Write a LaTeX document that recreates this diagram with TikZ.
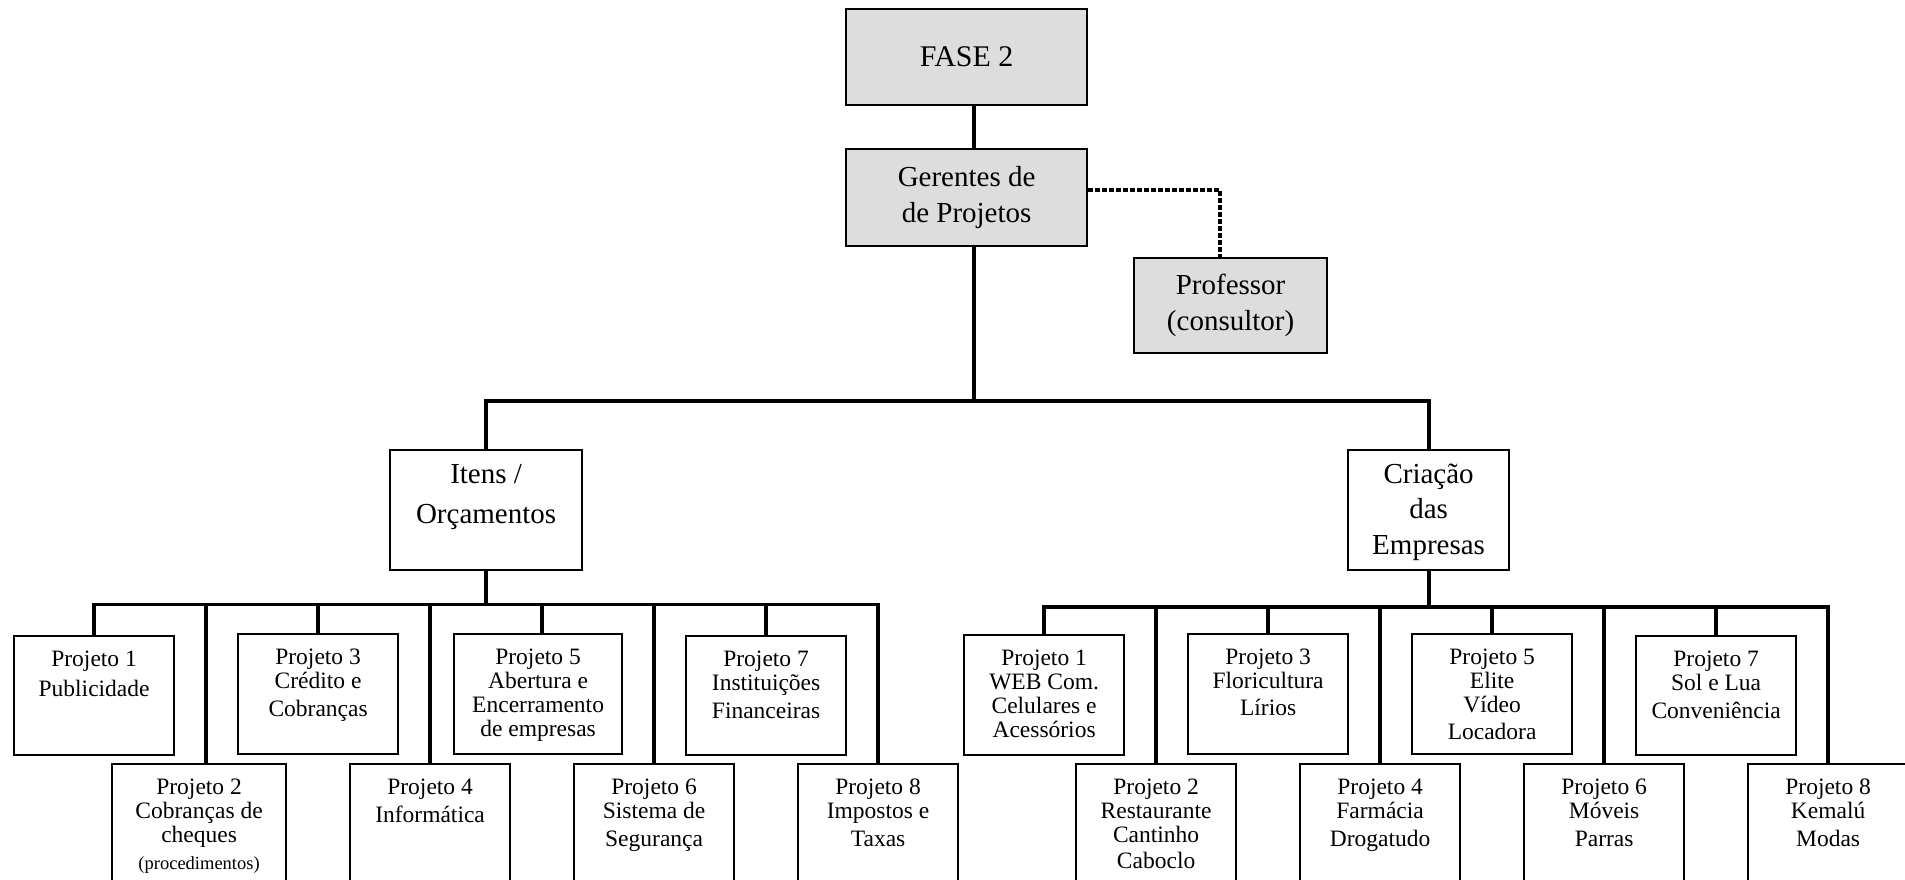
\documentclass[tikz,border=0pt]{standalone}
\usepackage{fontspec}
\setmainfont{Liberation Serif}
\usetikzlibrary{calc}

\definecolor{boxgray}{RGB}{221,221,221}

% text sizes
\newcommand\projfont{\fontsize{23.5}{24}\selectfont}
\newcommand\headfont{\fontsize{29}{35.5}\selectfont}
\newcommand\notefont{\fontsize{18.5}{20}\selectfont}
% top-aligned box content: [first baseline]{width}{height}{text}
\newcommand\pb[4][30pt]{\parbox[t][#3][t]{#2}{\centering\rule{0pt}{#1}#4}}

\begin{document}
\begin{tikzpicture}[x=1pt,y=-1pt,
  graybox/.style={draw, line width=2.2pt, fill=boxgray, inner sep=0pt,
    anchor=north west, align=center, font=\headfont},
  proj/.style={draw, line width=2.2pt, fill=white, inner sep=0pt,
    anchor=north west, font=\projfont},
  groupbox/.style={draw, line width=2.2pt, fill=white, inner sep=0pt,
    anchor=north west, font=\headfont},
  wire/.style={line width=3.8pt},
  dashlink/.style={line width=3.6pt, dash pattern=on 5pt off 2pt}]

\useasboundingbox (0,0) rectangle (1905,879);
\clip (0,0) rectangle (1905,879);

% guide levels for the bus lines
\coordinate (topbus) at (0,401);
\coordinate (lbus) at (0,604.5);
\coordinate (rbus) at (0,607);

% head of the chart
\node[graybox, minimum width=241pt, minimum height=96pt,
      font=\fontsize{30}{36}\selectfont] (fase) at (845,8) {FASE 2};
\node[graybox, minimum width=241pt, minimum height=97pt] (ger) at (845,148)
  {Gerentes de\\de Projetos};
\node[graybox, minimum width=193pt, minimum height=95pt] (prof) at (1133,257)
  {Professor\\(consultor)};

% the two groups
\node[groupbox] (itens) at (389,449)
  {\pb[33pt]{192pt}{120pt}{\fontsize{29}{40}\selectfont Itens /\\Orçamentos}};
\node[groupbox] (cria) at (1347,449)
  {\pb[33pt]{161pt}{120pt}{Criação\\das\\Empresas}};

% projects of "Itens / Orçamentos"
\node[proj] (l1) at (13,635)  {\pb{160pt}{119pt}{Projeto 1\\[6pt]Publicidade}};
\node[proj] (l2) at (111,763) {\pb{174pt}{130pt}{Projeto 2\\Cobranças de\\cheques\\[3pt]{\notefont(procedimentos)}}};
\node[proj] (l3) at (237,633) {\pb{160pt}{120pt}{Projeto 3\\Crédito e\\[4pt]Cobranças}};
\node[proj] (l4) at (349,763) {\pb{160pt}{130pt}{Projeto 4\\[4pt]Informática}};
\node[proj] (l5) at (453,633) {\pb{168pt}{120pt}{Projeto 5\\Abertura e\\Encerramento\\de empresas}};
\node[proj] (l6) at (573,763) {\pb{160pt}{130pt}{Projeto 6\\Sistema de\\[4pt]Segurança}};
\node[proj] (l7) at (685,635) {\pb{160pt}{119pt}{Projeto 7\\Instituições\\[4pt]Financeiras}};
\node[proj] (l8) at (797,763) {\pb{160pt}{130pt}{Projeto 8\\Impostos e\\[4pt]Taxas}};

% projects of "Criação das Empresas"
\node[proj] (r1) at (963,634)  {\pb{160pt}{120pt}{Projeto 1\\WEB Com.\\Celulares e\\Acessórios}};
\node[proj] (r2) at (1075,763) {\pb{160pt}{130pt}{Projeto 2\\Restaurante\\Cantinho\\[2pt]Caboclo}};
\node[proj] (r3) at (1187,633) {\pb{160pt}{120pt}{Projeto 3\\Floricultura\\[3pt]Lírios}};
\node[proj] (r4) at (1299,763) {\pb{160pt}{130pt}{Projeto 4\\Farmácia\\[4pt]Drogatudo}};
\node[proj] (r5) at (1411,633) {\pb{160pt}{120pt}{Projeto 5\\Elite\\Vídeo\\[3pt]Locadora}};
\node[proj] (r6) at (1523,763) {\pb{160pt}{130pt}{Projeto 6\\Móveis\\[4pt]Parras}};
\node[proj] (r7) at (1635,635) {\pb{160pt}{119pt}{Projeto 7\\Sol e Lua\\[4pt]Conveniência}};
\node[proj] (r8) at (1747,763) {\pb{160pt}{130pt}{Projeto 8\\Kemalú\\[4pt]Modas}};

% spine and consultant link
\draw[wire] ([xshift=7.5pt]fase.south) -- ([xshift=7.5pt]ger.north);
\draw[wire] ([xshift=7.5pt]ger.south) -- ([xshift=7.5pt]ger.south |- topbus);
\draw[dashlink] ([yshift=7.5pt]ger.east) -| ([xshift=-10.5pt]prof.north);

% top bus to the two groups
\draw[wire] (itens.north) -- (itens.north |- topbus)
  -- (cria.north |- topbus) -- (cria.north);

% left group bus
\draw[wire] (itens.south) -- (itens.south |- lbus);
\draw[wire] (l1.north) -- (l1.north |- lbus) -- (l8.north |- lbus) -- (l8.north);
\draw[wire] ([xshift=7pt]l2.north |- lbus) -- ([xshift=7pt]l2.north);
\draw[wire] (l3.north |- lbus) -- (l3.north);
\draw[wire] (l4.north |- lbus) -- (l4.north);
\draw[wire] ([xshift=4pt]l5.north |- lbus) -- ([xshift=4pt]l5.north);
\draw[wire] (l6.north |- lbus) -- (l6.north);
\draw[wire] (l7.north |- lbus) -- (l7.north);

% right group bus
\draw[wire] (cria.south) -- (cria.south |- rbus);
\draw[wire] (r1.north) -- (r1.north |- rbus) -- (r8.north |- rbus) -- (r8.north);
\draw[wire] (r2.north |- rbus) -- (r2.north);
\draw[wire] (r3.north |- rbus) -- (r3.north);
\draw[wire] (r4.north |- rbus) -- (r4.north);
\draw[wire] (r5.north |- rbus) -- (r5.north);
\draw[wire] (r6.north |- rbus) -- (r6.north);
\draw[wire] (r7.north |- rbus) -- (r7.north);
\end{tikzpicture}
\end{document}
